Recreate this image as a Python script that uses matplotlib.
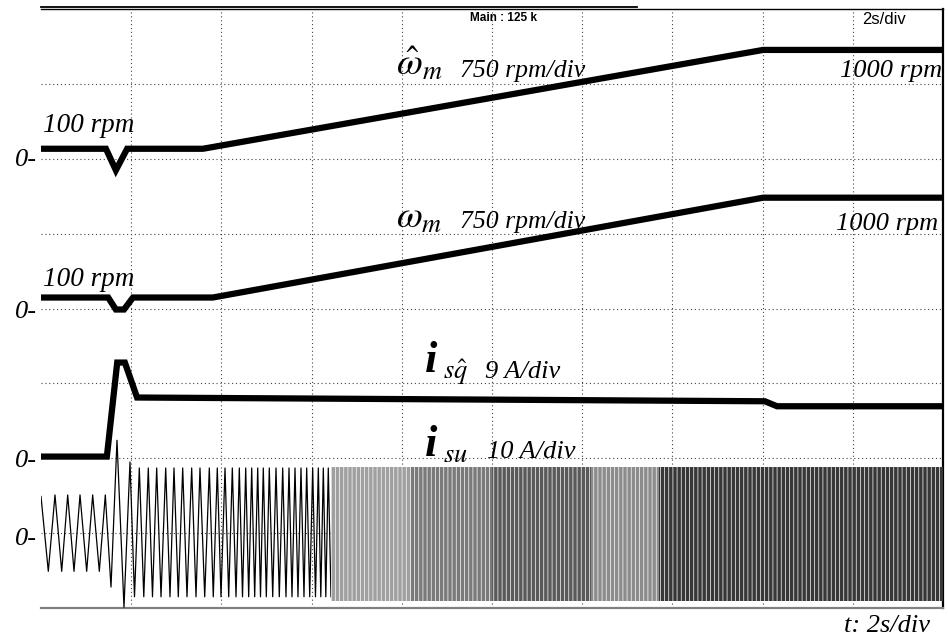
#!/usr/bin/env python3
"""Oscilloscope capture: sensorless speed ramp 100 -> 1000 rpm with load step."""

import matplotlib
matplotlib.use("Agg")
import matplotlib.pyplot as plt
from matplotlib.lines import Line2D

plt.rcParams["mathtext.fontset"] = "stix"
plt.rcParams["hatch.linewidth"] = 0.5

W, H = 948, 637
SERIF = ["Liberation Serif", "DejaVu Serif"]
SANS = ["Liberation Sans", "DejaVu Sans"]

# ---- channel scaling (per division) and zero-line position (in divisions)
WHAT_SCALE, WHAT_ZERO = 750.0, 6.0      # estimated speed, rpm/div
W_SCALE, W_ZERO = 750.0, 4.0            # measured speed, rpm/div
ISQ_SCALE, ISQ_ZERO = 9.0, 2.0          # q-current, A/div
ISU_SCALE, ISU_ZERO = 10.0, 1.0         # phase current, A/div

# ---- estimated speed (s, rpm)
what_t = [0.0, 1.44, 1.66, 1.91, 3.59, 16.01, 20.0]
what_rpm = [100, 100, -115, 100, 100, 1090, 1090]

# ---- measured speed (s, rpm)
w_t = [0.0, 1.49, 1.66, 1.84, 2.04, 3.81, 16.01, 20.0]
w_rpm = [110, 110, -10, -10, 110, 110, 1110, 1110]

# ---- q-axis current (s, A)
isq_t = [0.0, 1.46, 1.69, 1.86, 2.13, 16.05, 16.32, 20.0]
isq_a = [0.2, 0.2, 11.5, 11.5, 7.3, 6.85, 6.25, 6.25]

# ---- phase current: extremum instants (s) and values (A) where cycles are resolvable
isu_pre_t = [0.000, 0.162, 0.310, 0.459, 0.592, 0.732, 0.865, 1.013, 1.146, 1.293, 1.426]
isu_pre_a = [4.9, -5.1, 5.1, -5.1, 5.1, -5.1, 5.1, -5.1, 5.1, -5.1, 5.1]
isu_step_t = [1.552, 1.685, 1.840, 1.973]
isu_step_a = [-7.2, 12.4, -9.9, 9.5]
isu_run_t = [2.073, 2.180, 2.279, 2.379, 2.472, 2.565, 2.661, 2.765, 2.860, 2.949,
             3.044, 3.142, 3.237, 3.341, 3.437, 3.525, 3.630, 3.732, 3.820, 3.909,
             3.991, 4.080, 4.162, 4.242, 4.324, 4.397, 4.468, 4.539, 4.605, 4.672,
             4.738, 4.805, 4.867, 4.929, 4.996, 5.062, 5.138, 5.211, 5.284, 5.359,
             5.432, 5.499, 5.565, 5.632, 5.698, 5.765, 5.831, 5.891, 5.958, 6.024,
             6.086, 6.149, 6.204, 6.260, 6.315, 6.370, 6.430]
isu_run_peak, isu_run_trough = 8.7, -8.5
# beyond that the cycles merge into a band (envelope, A)
isu_band_t = [6.43, 8.2, 10.0, 12.2, 13.7, 20.0]
isu_band_hi = 8.8
isu_band_lo = -9.0


def px(x, y):
    return x / W, 1 - y / H


fig = plt.figure(figsize=(W / 100, H / 100), dpi=100)
ax = fig.add_axes([41 / W, 29 / H, 902 / W, 599 / H])
ax.set_xlim(0, 20)
ax.set_ylim(0, 8)
ax.set_xticks(range(2, 20, 2))
ax.set_yticks(range(1, 8))
ax.tick_params(length=0, labelbottom=False, labelleft=False)
ax.grid(True, color="#444444", lw=0.8, ls=(0, (1, 2.5)))
ax.set_axisbelow(True)
ax.spines["left"].set_visible(False)
ax.spines["top"].set_linewidth(1.0)
ax.spines["right"].set_linewidth(1.6)
ax.spines["bottom"].set_color("#808080")
ax.spines["bottom"].set_linewidth(1.6)
fig.add_artist(Line2D([41 / W, 637 / W], [1 - 7 / H] * 2, color="black", lw=1.3))

# speeds and q-current
ax.plot(what_t, [WHAT_ZERO + v / WHAT_SCALE for v in what_rpm],
        color="black", lw=4.5, solid_joinstyle="miter", zorder=4)
ax.plot(w_t, [W_ZERO + v / W_SCALE for v in w_rpm],
        color="black", lw=4.5, solid_joinstyle="miter", zorder=4)
ax.plot(isq_t, [ISQ_ZERO + v / ISQ_SCALE for v in isq_a],
        color="black", lw=4.5, solid_joinstyle="miter", zorder=4)

# phase current, resolvable cycles
run_a = [isu_run_trough if i % 2 == 0 else isu_run_peak for i in range(len(isu_run_t))]
zz_t = isu_pre_t + isu_step_t + isu_run_t
zz_a = isu_pre_a + isu_step_a + run_a
ax.plot(zz_t, [ISU_ZERO + v / ISU_SCALE for v in zz_a],
        color="black", lw=0.9, zorder=3)

# phase current, merged band
shades = ["#a0a0a0", "#7a7a7a", "#5a5a5a", "#8c8c8c", "#383838"]
for k in range(len(isu_band_t) - 1):
    ax.fill_between([isu_band_t[k], isu_band_t[k + 1]],
                    ISU_ZERO + isu_band_lo / ISU_SCALE,
                    ISU_ZERO + isu_band_hi / ISU_SCALE,
                    facecolor=shades[k], edgecolor="white", hatch="||||",
                    lw=0, zorder=3)

# ---- annotations
def label(x, y, s, size, ha="left", **kw):
    fig.text(*px(x, y), s, fontsize=size, ha=ha, va="baseline", **kw)


it = dict(family=SERIF, style="italic")
for y in (166, 318, 467, 545):
    label(15, y, "0-", 19, **it)
label(43, 132, "100 rpm", 19.5, **it)
label(43, 286, "100 rpm", 19.5, **it)
label(942, 77, "1000 rpm", 19, ha="right", **it)
label(938, 230, "1000 rpm", 19, ha="right", **it)
label(460, 77, "750 rpm/div", 18.5, **it)
label(460, 228, "750 rpm/div", 18.5, **it)
label(396, 75, r"$\hat{\omega}_m$", 27)
label(396, 228, r"$\omega_m$", 27)

label(425, 372, "i", 32, family=SERIF, style="italic", weight="bold")
label(443, 379, r"$s\hat{q}$", 19)
label(485, 378, "9 A/div", 19, **it)
label(425, 456, "i", 32, family=SERIF, style="italic", weight="bold")
label(443, 462, r"$su$", 19)
label(487, 458, "10 A/div", 19, **it)

label(930, 632, "t: 2s/div", 19, ha="right", **it)
label(470, 21, "Main : 125 k", 8.5, family=SANS, weight="bold")
label(862, 24, "2s/div", 12, family=SANS)

fig.savefig("out.png", dpi=100)
